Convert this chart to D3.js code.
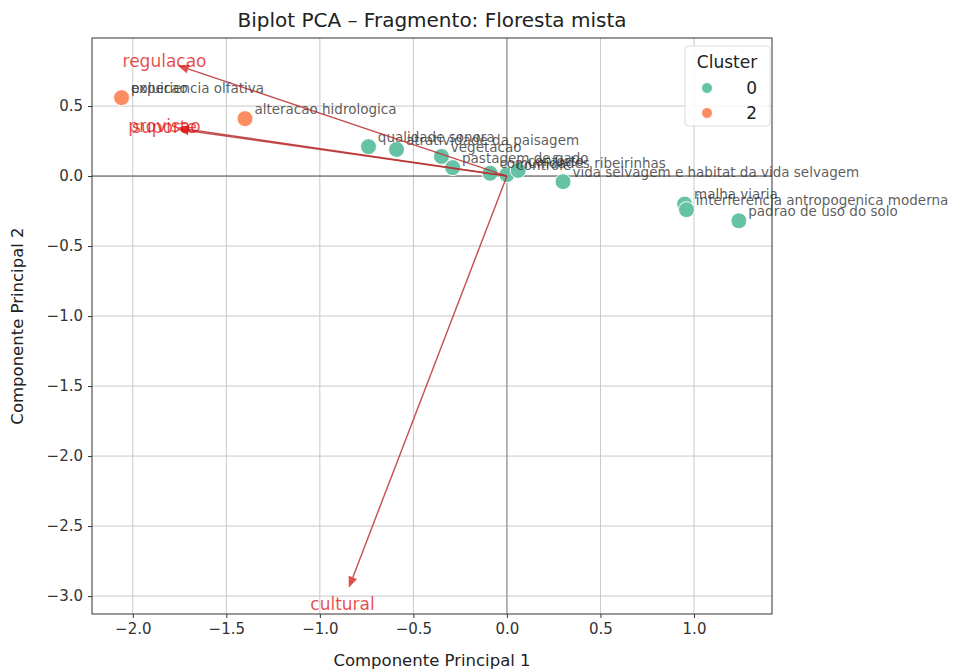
<!DOCTYPE html>
<html>
<head>
<meta charset="utf-8">
<script src="https://cdn.jsdelivr.net/npm/d3@7"></script>
<style>
  html, body { margin: 0; padding: 0; background: #fff; }
  svg { display: block; font-family: "DejaVu Sans", sans-serif; }
</style>
</head>
<body>
<svg id="chart" width="960" height="672"></svg>
<script>
// PCA scores for each feature (PC1, PC2) and their cluster
const featureNames = [
  "poluicao", "experiencia olfativa", "alteracao hidrologica",
  "qualidade sonora", "atratividade da paisagem", "vegetacao",
  "pastagem de gado", "comunidades ribeirinhas", "controle", "conforto",
  "vida selvagem e habitat da vida selvagem", "malha viaria",
  "interferencia antropogenica moderna", "padrao de uso do solo"
];
const pc1 = [-2.06, -2.06, -1.40, -0.74, -0.59, -0.35, -0.29, -0.09, 0.00, 0.06, 0.30, 0.95, 0.96, 1.24];
const pc2 = [0.56, 0.56, 0.41, 0.21, 0.19, 0.14, 0.06, 0.02, 0.01, 0.04, -0.04, -0.20, -0.24, -0.32];
const clusterIds = [2, 2, 2, 0, 0, 0, 0, 0, 0, 0, 0, 0, 0, 0];

// Loading vectors (scaled) for the service categories
const vectorNames = ["regulacao", "provisao", "suporte", "cultural"];
const vecX = [-1.76, -1.76, -1.76, -0.845];
const vecY = [0.79, 0.345, 0.335, -2.94];

const legendClusters = [0, 2];
const xTicks = [-2.0, -1.5, -1.0, -0.5, 0.0, 0.5, 1.0];
const yTicks = [0.5, 0.0, -0.5, -1.0, -1.5, -2.0, -2.5, -3.0];

const palette = { 0: "#66c2a5", 2: "#fc8d62" };

const svg = d3.select("#chart");
const m = { left: 92, right: 772, top: 38, bottom: 614 };

const x = d3.scaleLinear().domain([-2.218, 1.417]).range([m.left, m.right]);
const y = d3.scaleLinear().domain([0.986, -3.128]).range([m.top, m.bottom]);

const fmt = d => d3.format(".1f")(d).replace("-", "\u2212");

// grid
const grid = svg.append("g");
grid.selectAll(".gx").data(xTicks).join("line")
  .attr("x1", d => x(d)).attr("x2", d => x(d))
  .attr("y1", m.top).attr("y2", m.bottom)
  .attr("stroke", "#c8c8c8").attr("stroke-width", 1);
grid.selectAll(".gy").data(yTicks).join("line")
  .attr("y1", d => y(d)).attr("y2", d => y(d))
  .attr("x1", m.left).attr("x2", m.right)
  .attr("stroke", "#c8c8c8").attr("stroke-width", 1);

// zero reference lines
svg.append("line").attr("x1", m.left).attr("x2", m.right)
  .attr("y1", y(0)).attr("y2", y(0)).attr("stroke", "#555").attr("stroke-width", 1);
svg.append("line").attr("y1", m.top).attr("y2", m.bottom)
  .attr("x1", x(0)).attr("x2", x(0)).attr("stroke", "#888").attr("stroke-width", 1);

// axes
const xAxis = d3.axisBottom(x).tickValues(xTicks).tickFormat(fmt).tickSize(4).tickPadding(5);
const yAxis = d3.axisLeft(y).tickValues(yTicks).tickFormat(fmt).tickSize(4).tickPadding(5);
const gx = svg.append("g").attr("transform", `translate(0,${m.bottom})`).call(xAxis);
const gy = svg.append("g").attr("transform", `translate(${m.left},0)`).call(yAxis);
[gx, gy].forEach(g => {
  g.select(".domain").remove();
  g.selectAll("text").attr("font-size", 15).attr("fill", "#333").attr("font-family", "DejaVu Sans");
  g.selectAll("line").attr("stroke", "#333");
});

// frame
svg.append("rect").attr("x", m.left).attr("y", m.top)
  .attr("width", m.right - m.left).attr("height", m.bottom - m.top)
  .attr("fill", "none").attr("stroke", "#333").attr("stroke-width", 1);

// scatter points
const pts = featureNames.map((n, i) => ({ name: n, px: pc1[i], py: pc2[i], c: clusterIds[i] }));
svg.append("g").selectAll("circle").data(pts).join("circle")
  .attr("cx", d => x(d.px)).attr("cy", d => y(d.py)).attr("r", 8)
  .attr("fill", d => palette[d.c]).attr("stroke", "#fff").attr("stroke-width", 1);

// point labels
svg.append("g").selectAll("text").data(pts).join("text")
  .attr("x", d => x(d.px + 0.05)).attr("y", d => y(d.py + 0.035))
  .attr("font-size", 13.5).attr("fill", "#333").attr("fill-opacity", 0.8)
  .text(d => d.name);

// loading arrows
const vecs = vectorNames.map((n, i) => ({ name: n, vx: vecX[i], vy: vecY[i] }));
const ag = svg.append("g");
vecs.forEach(v => {
  const x0 = x(0), y0 = y(0), x1 = x(v.vx), y1 = y(v.vy);
  const ang = Math.atan2(y1 - y0, x1 - x0);
  const L = 11, W = 4.5;
  const bx = x1 - L * Math.cos(ang), by = y1 - L * Math.sin(ang);
  ag.append("line").attr("x1", x0).attr("y1", y0).attr("x2", bx).attr("y2", by)
    .attr("stroke", "#b83030").attr("stroke-opacity", 0.85).attr("stroke-width", 1.4);
  const px = -Math.sin(ang), py = Math.cos(ang);
  ag.append("path")
    .attr("d", `M${x1},${y1}L${bx + W * px},${by + W * py}L${bx - W * px},${by - W * py}Z`)
    .attr("fill", "#d82020").attr("fill-opacity", 0.8);
  ag.append("text")
    .attr("x", x(v.vx * 1.04)).attr("y", y(v.vy * 1.04))
    .attr("text-anchor", "middle").attr("dominant-baseline", "central")
    .attr("font-size", 17).attr("fill", "#e01010").attr("fill-opacity", 0.75)
    .text(v.name);
});

// title and axis labels
svg.append("text").attr("x", (m.left + m.right) / 2).attr("y", 27)
  .attr("text-anchor", "middle").attr("font-size", 20).attr("fill", "#222")
  .text("Biplot PCA \u2013 Fragmento: Floresta mista");
svg.append("text").attr("x", (m.left + m.right) / 2).attr("y", 666)
  .attr("text-anchor", "middle").attr("font-size", 16.5).attr("fill", "#222")
  .text("Componente Principal 1");
svg.append("text")
  .attr("transform", `translate(23,${(m.top + m.bottom) / 2}) rotate(-90)`)
  .attr("text-anchor", "middle").attr("font-size", 16.5).attr("fill", "#222")
  .text("Componente Principal 2");

// legend
const lg = svg.append("g").attr("transform", "translate(685,46)");
lg.append("rect").attr("width", 85).attr("height", 80).attr("rx", 3)
  .attr("fill", "#fff").attr("fill-opacity", 0.85).attr("stroke", "#ddd");
lg.append("text").attr("x", 42).attr("y", 22).attr("text-anchor", "middle")
  .attr("font-size", 17).attr("fill", "#222").text("Cluster");
legendClusters.forEach((c, i) => {
  lg.append("circle").attr("cx", 22).attr("cy", 42 + i * 25).attr("r", 5.5)
    .attr("fill", palette[c]).attr("stroke", "#fff");
  lg.append("text").attr("x", 72).attr("y", 48 + i * 25).attr("text-anchor", "end")
    .attr("font-size", 17).attr("fill", "#222").text(c);
});
</script>
</body>
</html>
